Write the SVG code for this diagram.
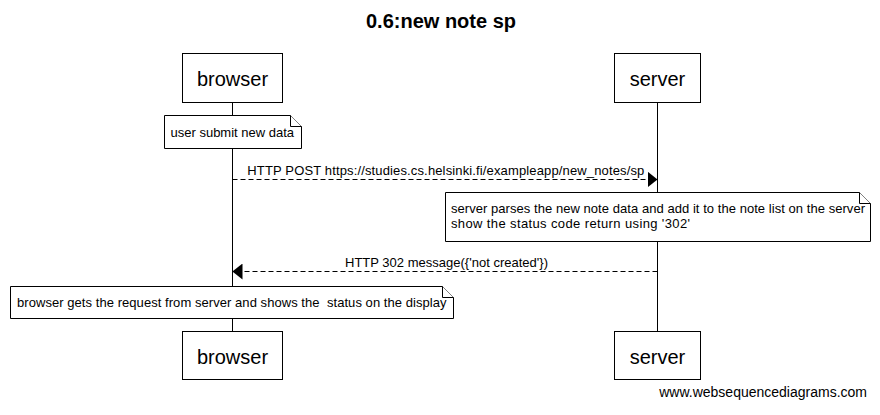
<svg xmlns="http://www.w3.org/2000/svg" width="880" height="415" viewBox="0 0 880 415">
  <style>
    text { font-family: "Liberation Sans", Arial, sans-serif; fill: #000; }
    .title { font-size: 20px; font-weight: bold; text-anchor: middle; }
    .actor rect { fill: #fff; stroke: #000; stroke-width: 1; }
    .actor text { font-size: 20px; text-anchor: middle; }
    .note path { fill: #fff; stroke: #000; stroke-width: 1; }
    .note text { font-size: 13px; }
    .life { stroke: #000; stroke-width: 1; fill: none; }
    .msg { stroke: #000; stroke-width: 1; stroke-dasharray: 5,3; fill: none; }
    .lbl { font-size: 13px; text-anchor: middle; }
    .wm { font-size: 14px; text-anchor: end; }
  </style>
  <defs>
    <marker id="ah" viewBox="0 0 10 16" refX="10" refY="8" markerWidth="10" markerHeight="16" orient="auto" markerUnits="userSpaceOnUse">
      <path d="M0,0 L10,8 L0,16 z" fill="#000"/>
    </marker>
  </defs>
  <rect x="0" y="0" width="880" height="415" fill="#fff"/>
  <text class="title" x="441" y="28">0.6:new note sp</text>

  <g id="lifelines">
    <line class="life" x1="232.5" y1="102" x2="232.5" y2="331"/>
    <line class="life" x1="657.5" y1="102" x2="657.5" y2="331"/>
  </g>

  <g id="browser-top" class="actor">
    <rect x="182.5" y="53.5" width="100" height="49"/>
    <text x="232.5" y="86">browser</text>
  </g>
  <g id="server-top" class="actor">
    <rect x="614.5" y="53.5" width="86" height="49"/>
    <text x="657.5" y="86">server</text>
  </g>

  <g id="note-user" class="note">
    <path d="M164.5,115.5 H290.5 L301.5,126.5 V148.5 H164.5 Z"/>
    <path d="M290.5,115.5 V126.5 H301.5"/>
    <text x="170.5" y="136.5">user submit new data</text>
  </g>

  <g id="note-server" class="note">
    <path d="M445.5,192.5 H859.5 L870.5,203.5 V241.5 H445.5 Z"/>
    <path d="M859.5,192.5 V203.5 H870.5"/>
    <text x="451" y="213" textLength="414" lengthAdjust="spacing">server parses the new note data and add it to the note list on the server</text>
    <text x="451" y="227.5" textLength="239" lengthAdjust="spacing">show the status code return using '302'</text>
  </g>

  <g id="note-browser" class="note">
    <path d="M10.5,286.5 H442.5 L453.5,297.5 V318.5 H10.5 Z"/>
    <path d="M442.5,286.5 V297.5 H453.5"/>
    <text x="17" y="307" xml:space="preserve" textLength="429.5" lengthAdjust="spacing">browser gets the request from server and shows the  status on the display</text>
  </g>

  <g id="connectors">
    <line class="msg" x1="232.5" y1="179.5" x2="657.5" y2="179.5" marker-end="url(#ah)"/>
    <text class="lbl" x="445.8" y="175" textLength="397" lengthAdjust="spacing">HTTP POST https://studies.cs.helsinki.fi/exampleapp/new_notes/sp</text>
    <line class="msg" x1="657.5" y1="271.5" x2="232.5" y2="271.5" marker-end="url(#ah)"/>
    <text class="lbl" x="446.5" y="267" textLength="203" lengthAdjust="spacing">HTTP 302 message({'not created'})</text>
  </g>

  <g id="browser-bottom" class="actor">
    <rect x="182.5" y="331.5" width="100" height="48"/>
    <text x="232.5" y="364">browser</text>
  </g>
  <g id="server-bottom" class="actor">
    <rect x="614.5" y="331.5" width="86" height="48"/>
    <text x="657.5" y="364">server</text>
  </g>

  <text class="wm" x="867" y="397">www.websequencediagrams.com</text>
</svg>
